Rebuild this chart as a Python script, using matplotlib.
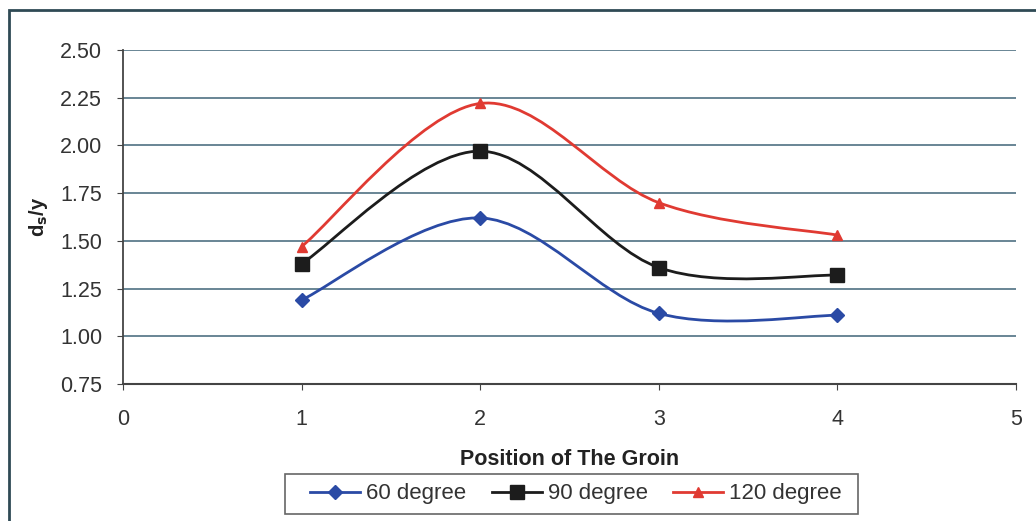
import numpy as np
import matplotlib.pyplot as plt
from matplotlib.path import Path
from matplotlib.patches import PathPatch, Rectangle
from matplotlib.lines import Line2D

positions = [1, 2, 3, 4]
deg60 = [1.19, 1.62, 1.12, 1.11]
deg90 = [1.38, 1.97, 1.36, 1.32]
deg120 = [1.47, 2.22, 1.70, 1.53]
yticks = [0.75, 1.00, 1.25, 1.50, 1.75, 2.00, 2.25, 2.50]


def smooth_path(xs, ys):
    # Excel-like smoothed line: cubic bezier through the points
    pts = np.column_stack([xs, ys]).astype(float)
    n = len(pts)
    verts = [pts[0]]
    codes = [Path.MOVETO]
    for i in range(n - 1):
        p0 = pts[i - 1] if i > 0 else pts[i]
        p1 = pts[i]
        p2 = pts[i + 1]
        p3 = pts[i + 2] if i + 2 < n else pts[i + 1]
        c1 = p1 + (p2 - p0) / 6.0
        c2 = p2 - (p3 - p1) / 6.0
        verts += [c1, c2, p2]
        codes += [Path.CURVE4] * 3
    return Path(verts, codes)


plt.rcParams['font.family'] = ['Liberation Sans', 'DejaVu Sans']

fig = plt.figure(figsize=(10.36, 5.21), dpi=100)
ax = fig.add_axes([0.1187, 0.263, 0.862, 0.641])

series = [
    (deg60, '#2a4aa5', 'D', 7, '60 degree'),
    (deg90, '#1c1c1c', 's', 9.5, '90 degree'),
    (deg120, '#e03a32', '^', 7.5, '120 degree'),
]
handles = []
for vals, col, mk, ms, lab in series:
    ax.add_patch(PathPatch(smooth_path(positions, vals), facecolor='none',
                           edgecolor=col, lw=2, zorder=3))
    ax.plot(positions, vals, linestyle='none', marker=mk, markersize=ms,
            color=col, zorder=4)
    handles.append(Line2D([], [], color=col, lw=2, marker=mk, markersize=ms, label=lab))

ax.set_xlim(0, 5)
ax.set_ylim(0.75, 2.5)
ax.set_xticks([0, 1, 2, 3, 4, 5])
ax.set_yticks(yticks)
ax.set_yticklabels(['%.2f' % v for v in yticks])
ax.grid(axis='y', color='#5d7c8c', lw=1.3)
ax.set_axisbelow(True)
for s in ['top', 'right']:
    ax.spines[s].set_visible(False)
ax.spines['left'].set_color('#444444')
ax.spines['bottom'].set_color('#444444')
ax.spines['left'].set_linewidth(1.3)
ax.spines['bottom'].set_linewidth(1.5)
ax.tick_params(axis='y', length=4, color='#444444', labelsize=15.5, labelcolor='#333333', pad=11)
ax.tick_params(axis='x', length=4, color='#444444', labelsize=15.5, labelcolor='#333333', pad=14)

ax.set_xlabel('Position of The Groin', fontsize=15.5, fontweight='bold', color='#222222', labelpad=14)
ax.set_ylabel('d$_\\mathbf{s}$/y', fontsize=14.5, fontweight='bold', color='#222222')
ax.yaxis.set_label_coords(-0.082, 0.5)

leg = fig.legend(handles=handles, loc='center', bbox_to_anchor=(0.556, 0.052), ncol=3,
                 fontsize=16, frameon=False,
                 handlelength=2.25, columnspacing=1.15, handletextpad=0.27)
for t in leg.get_texts():
    t.set_color('#333333')

# legend box and outer chart frame
fig.patches.append(Rectangle((285 / 1036, 1 - 514 / 521), 573 / 1036, 40 / 521,
                             transform=fig.transFigure, fill=False,
                             edgecolor='#666666', lw=1.2))
fig.patches.append(Rectangle((0.009, -0.05), 1.2, 1.03, transform=fig.transFigure,
                             fill=False, edgecolor='#2f4a55', lw=2))

fig.savefig('out.png', dpi=100)
